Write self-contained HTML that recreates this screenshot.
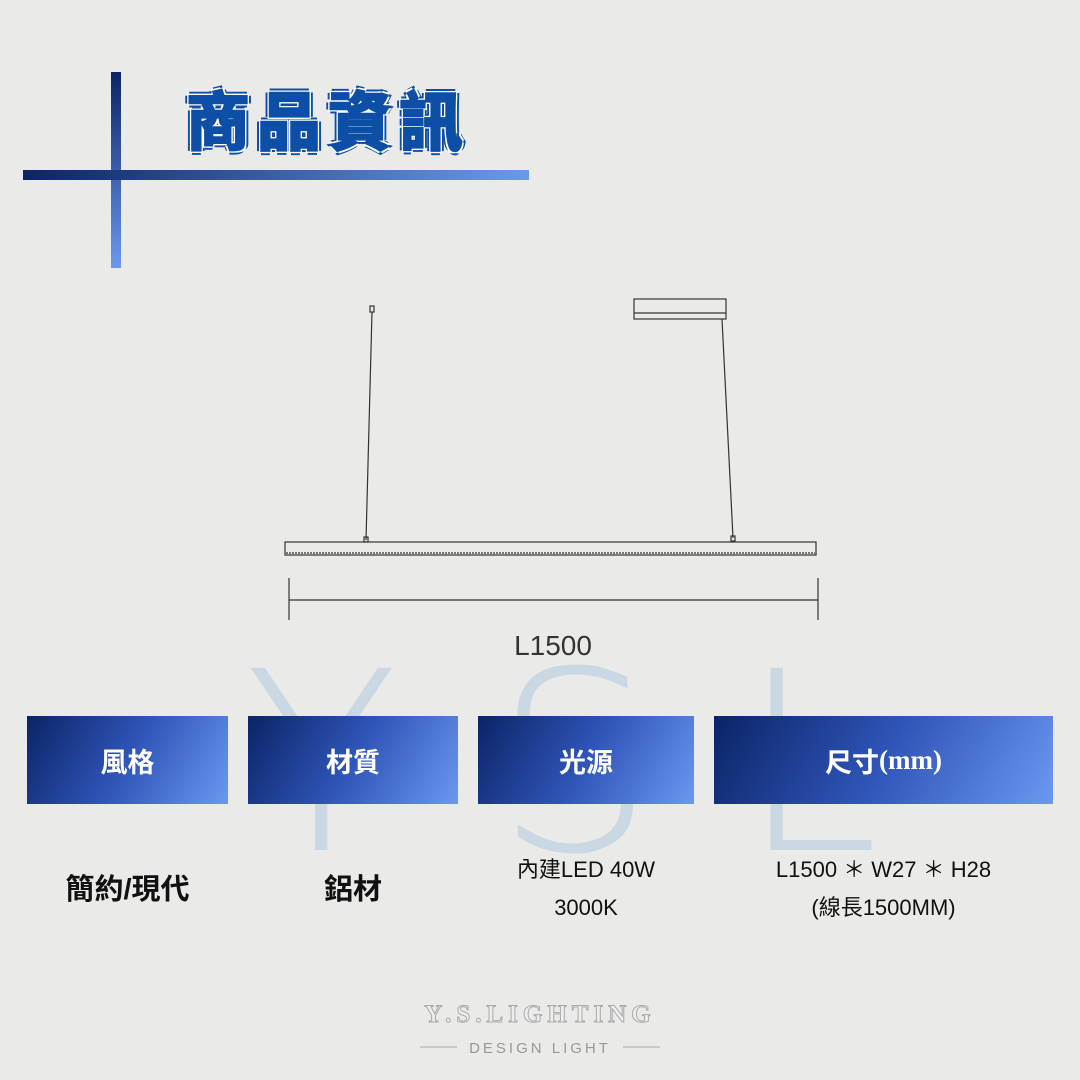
<!DOCTYPE html>
<html><head><meta charset="utf-8"><style>
body{margin:0;width:1080px;height:1080px;background:#eaeae8;position:relative;overflow:hidden;font-family:"Liberation Sans","Noto Sans CJK TC",sans-serif}
.a{position:absolute}
.box{position:absolute;top:716px;height:88px;background:linear-gradient(120deg,#0b2466 0%,#2f55b8 50%,#6b98ef 100%);color:#fff;font-weight:bold;font-size:27px;display:flex;align-items:center;justify-content:center}
.t{position:absolute;text-align:center;color:#111}
</style></head><body>
<svg class="a" style="left:0;top:0" width="1080" height="1080">
<g fill="#b5cde0" opacity="0.6" font-family="DejaVu Sans" font-weight="200" font-size="250">
<text x="245" y="850" textLength="160">Y</text><text x="495" y="850">S</text><text x="740" y="850">L</text></g>
</svg>
<div class="a" style="left:111px;top:72px;width:10px;height:196px;background:linear-gradient(#0b2466,#6b98ef)"></div>
<div class="a" style="left:23px;top:170px;width:506px;height:10px;background:linear-gradient(90deg,#0b2466,#6b98ef)"></div>
<div class="a" style="left:186px;top:72px;font-size:64px;font-weight:900;color:#0d4fa6;letter-spacing:7px;-webkit-text-stroke:1.5px #0d4fa6;text-shadow:2px 2px 0 #fff,-2px -2px 0 #fff,2px -2px 0 #fff,-2px 2px 0 #fff,4px 0 0 #0d4fa6,-4px 0 0 #0d4fa6,0 4px 0 #0d4fa6,0 -4px 0 #0d4fa6">商品資訊</div>
<svg class="a" style="left:0;top:0" width="1080" height="1080">
<g stroke="#333" fill="none" stroke-width="1.2">
<rect x="370" y="306" width="4" height="6"/>
<line x1="372" y1="312" x2="366" y2="540"/>
<rect x="634" y="299" width="92" height="20"/>
<line x1="634" y1="313" x2="726" y2="313"/>
<line x1="722" y1="319" x2="733" y2="538"/>
<rect x="364" y="537" width="4" height="5"/><rect x="731" y="536" width="4" height="5"/>
<rect x="285" y="542" width="531" height="13"/>
<line x1="286" y1="553" x2="815" y2="553" stroke-dasharray="2 1"/>
<line x1="289" y1="578" x2="289" y2="620"/><line x1="818" y1="578" x2="818" y2="620"/>
<line x1="289" y1="600" x2="818" y2="600"/>
</g>
<text x="553" y="655" text-anchor="middle" font-size="28" fill="#333" font-family="Liberation Sans">L1500</text>
<text x="540" y="1022" text-anchor="middle" font-size="25" font-weight="bold" fill="#eee" stroke="#aaa" letter-spacing="5" font-family="Liberation Serif">Y.S.LIGHTING</text>
<text x="540" y="1053" text-anchor="middle" font-size="15" fill="#999" letter-spacing="3" font-family="Liberation Sans">DESIGN LIGHT</text>
<line x1="420" y1="1047" x2="457" y2="1047" stroke="#aaa"/><line x1="623" y1="1047" x2="660" y2="1047" stroke="#aaa"/>
</svg>
<div class="box" style="left:27px;width:201px">風格</div>
<div class="box" style="left:248px;width:210px">材質</div>
<div class="box" style="left:478px;width:216px">光源</div>
<div class="box" style="left:714px;width:339px">尺寸<span style="font-family:'Liberation Serif'">(mm)</span></div>
<div class="t" style="left:27px;width:201px;top:866px;font-size:29px;font-weight:bold">簡約/現代</div>
<div class="t" style="left:248px;width:210px;top:866px;font-size:29px;font-weight:bold">鋁材</div>
<div class="t" style="left:478px;width:216px;top:851px;font-size:22px;line-height:38px">內建LED 40W<br>3000K</div>
<div class="t" style="left:714px;width:339px;top:851px;font-size:22px;line-height:38px">L1500 ＊ W27 ＊ H28<br>(線長1500MM)</div>
</body></html>
